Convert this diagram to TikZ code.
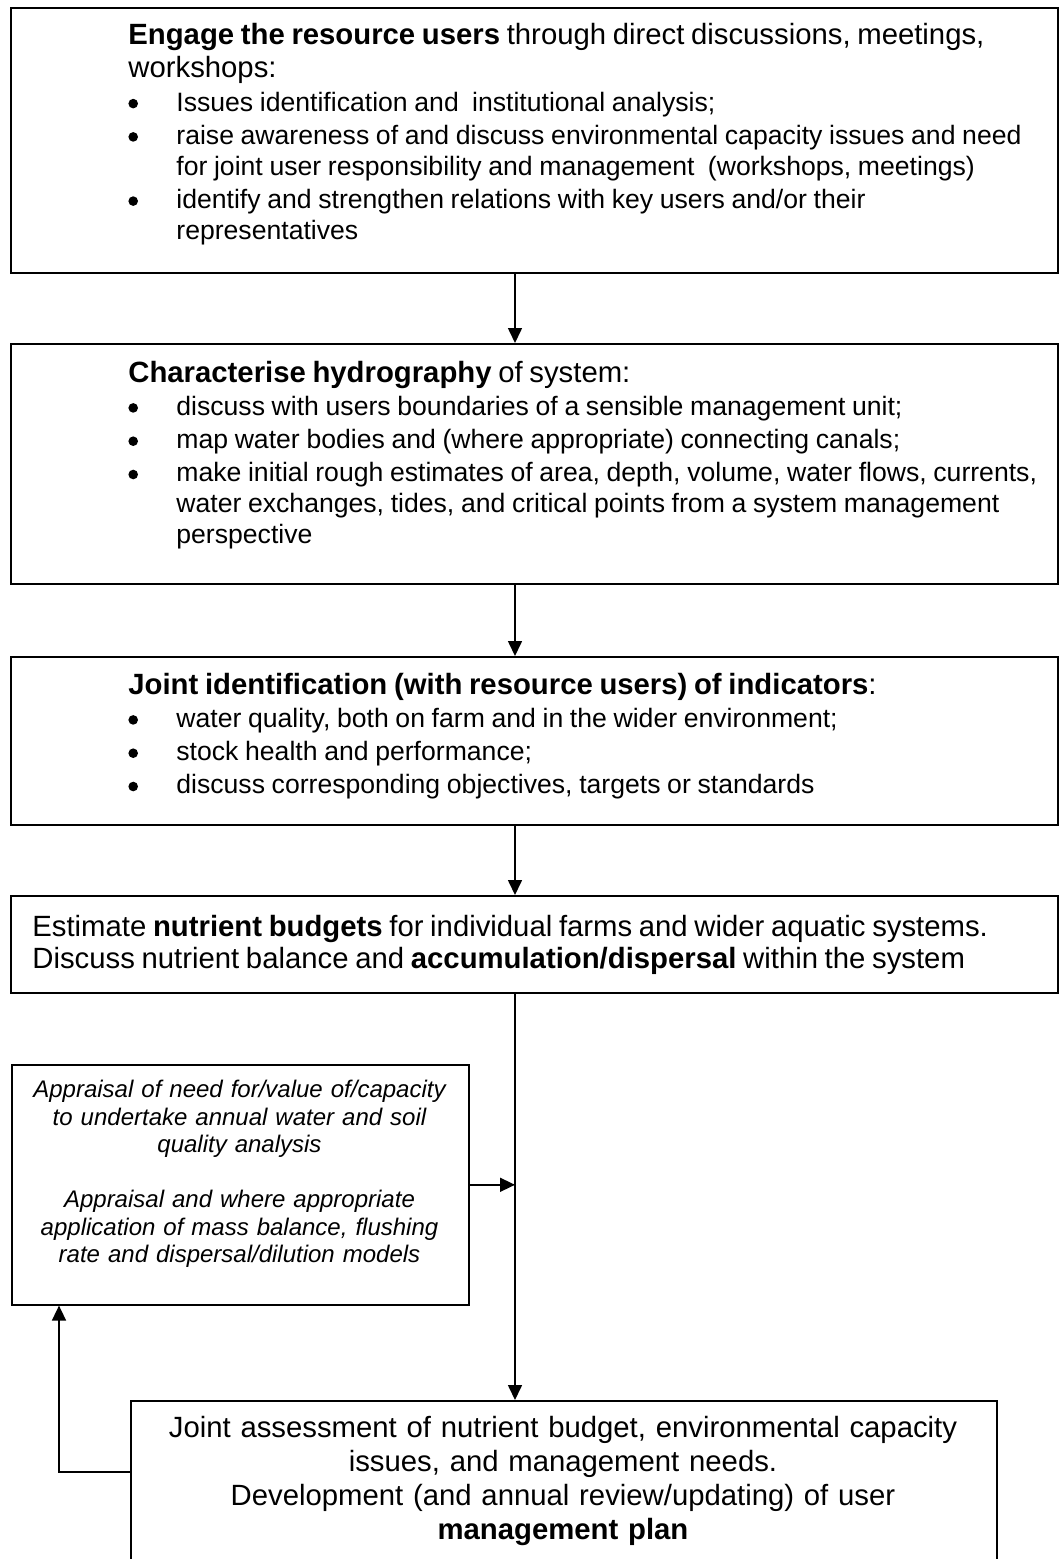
\documentclass[tikz,border=0pt]{standalone}
\usepackage{fontspec}
\setmainfont{Liberation Sans}
\usetikzlibrary{arrows.meta}
\newcommand{\bdot}{\tikz[baseline=0pt]\fill (0pt,3.7pt) circle[radius=2.4pt];}
\newcommand{\bulitem}{\makebox[24pt][l]{\bdot}}
\newcommand{\bulcont}{\hspace*{24pt}}
\newcommand{\hfnt}{\fontsize{14.65pt}{16.85pt}\selectfont}
\newcommand{\ifnt}{\fontsize{13.3pt}{15.45pt}\selectfont}
\begin{document}
\begin{tikzpicture}[x=0.5pt,y=-0.5pt,
  box/.style={draw, line width=0.8pt, rectangle, anchor=north west, inner sep=0pt},
  txt/.style={inner sep=0pt, anchor=base west, text width=515pt, align=left},
  ctxt/.style={inner sep=0pt, anchor=base, align=center},
  arr/.style={-{Triangle[width=7pt,length=7.5pt]}, line width=0.8pt}]
\useasboundingbox (0,0) rectangle (1059,1559);
\clip (0,0) rectangle (1059,1559);
\fill[white] (0,0) rectangle (1059,1559);

% boxes
\node[box, minimum width=523.5pt, minimum height=132.5pt] (b1) at (10,7) {};
\node[box, minimum width=523.5pt, minimum height=120pt] (b2) at (10,343) {};
\node[box, minimum width=523.5pt, minimum height=84pt] (b3) at (10,656) {};
\node[box, minimum width=523.5pt, minimum height=48.5pt] (b4) at (10,895) {};
\node[box, minimum width=228.5pt, minimum height=120pt] (b5) at (11,1064) {};
\node[box, minimum width=433pt, minimum height=100pt] (b6) at (130,1400) {};

% texts
\node[txt] (t1) at (128,44) {\raggedright\parskip=1.2pt
{\hfnt\textbf{Engage the resource users} through direct discussions, meetings,\\
workshops:\par}
{\ifnt\bulitem Issues identification and~ institutional analysis;\par}
{\ifnt\bulitem raise awareness of and discuss environmental capacity issues and need\\
\bulcont for joint user responsibility and management~ (workshops, meetings)\par}
{\ifnt\bulitem identify and strengthen relations with key users and/or their\\
\bulcont representatives\par}};

\node[txt] (t2) at (128,382) {\raggedright\parskip=1.2pt
{\hfnt\textbf{Characterise hydrography} of system:\par}
{\ifnt\bulitem discuss with users boundaries of a sensible management unit;\par}
{\ifnt\bulitem map water bodies and (where appropriate) connecting canals;\par}
{\ifnt\bulitem make initial rough estimates of area, depth, volume, water flows, currents,\\
\bulcont water exchanges, tides, and critical points from a system management\\
\bulcont perspective\par}};

\node[txt] (t3) at (128,694) {\raggedright\parskip=1.2pt
{\hfnt\textbf{Joint identification (with resource users) of indicators}:\par}
{\ifnt\bulitem water quality, both on farm and in the wider environment;\par}
{\ifnt\bulitem stock health and performance;\par}
{\ifnt\bulitem discuss corresponding objectives, targets or standards\par}};

\node[txt] (t4) at (32,936) {\raggedright
{\fontsize{14.65pt}{16pt}\selectfont
Estimate \textbf{nutrient budgets} for individual farms and wider aquatic systems.\\
Discuss nutrient balance and \textbf{accumulation/dispersal} within the system\par}};

\node[ctxt, text width=228pt, font=\fontsize{12pt}{13.75pt}\selectfont\itshape] (t5) at (239.5,1097.5) {%
Appraisal of need for/value of/capacity\\
to undertake annual water and soil\\
quality analysis\\[13.75pt]
Appraisal and where appropriate\\
application of mass balance, flushing\\
rate and dispersal/dilution models};

\node[ctxt, text width=430pt, font=\fontsize{14.65pt}{17pt}\selectfont] (t6) at (563,1437) {%
Joint assessment of nutrient budget, environmental capacity\\
issues, and management needs.\\
Development (and annual review/updating) of user\\
\textbf{management plan}};

% connectors
\coordinate (spine) at (515,0);
\coordinate (fbx) at (59,0);
\draw[arr] (b1.south -| spine) -- (b2.north -| spine);
\draw[arr] (b2.south -| spine) -- (b3.north -| spine);
\draw[arr] (b3.south -| spine) -- (b4.north -| spine);
\draw[arr] (b4.south -| spine) -- (b6.north -| spine);
\draw[arr] (b5.east) -- (b5.east -| spine);
\draw[arr] ([yshift=-36pt]b6.north west) -| (fbx |- b5.south);
\end{tikzpicture}
\end{document}
